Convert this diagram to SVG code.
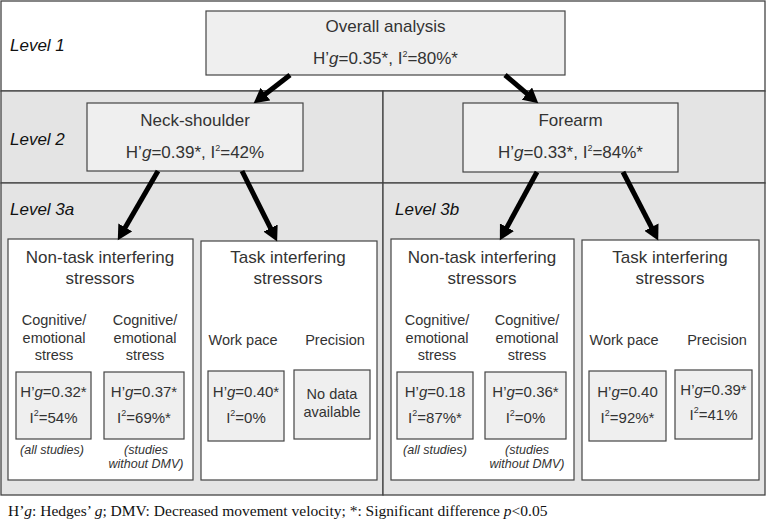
<svg xmlns="http://www.w3.org/2000/svg" width="767" height="525" viewBox="0 0 767 525">
<defs>
<style>
.band{fill:#e4e4e4;stroke:#444;stroke-width:1.3}
.band1{fill:#ffffff;stroke:#444;stroke-width:1.3}
.gbox{fill:#efefef;stroke:#444;stroke-width:1.2}
.wbox{fill:#ffffff;stroke:#444;stroke-width:1.2}
.dbox{fill:#efefef;stroke:#444;stroke-width:1.2}
text{font-family:"Liberation Sans",Arial,Helvetica,sans-serif;fill:#333}
.lvl{font-size:17px;font-style:italic;fill:#111}
.t17{font-size:17px;text-anchor:middle}
.t15{font-size:15px;text-anchor:middle}
.t14{font-size:14.5px;text-anchor:middle}
.note{font-size:12.5px;font-style:italic;text-anchor:middle}
.sup{font-size:9px}
.it{font-style:italic}
.foot{font-family:"Liberation Serif","Times New Roman",serif;font-size:15.5px;fill:#111}
.arr{stroke:#000;stroke-width:5;fill:none;marker-end:url(#ah)}
</style>
<marker id="ah" markerUnits="userSpaceOnUse" markerWidth="16" markerHeight="16" refX="8" refY="7.5" orient="auto" viewBox="0 0 15 15">
<path d="M0,0 L14,7.5 L0,15 z" fill="#000"/>
</marker>
</defs>

<g id="bands">
<rect class="band1" x="1" y="1" width="764" height="90"/>
<rect class="band" x="1" y="91" width="382" height="92"/>
<rect class="band" x="383" y="91" width="382" height="92"/>
<rect class="band" x="1" y="183" width="382" height="312"/>
<rect class="band" x="383" y="183" width="382" height="312"/>
<text class="lvl" x="10" y="51">Level 1</text>
<text class="lvl" x="10" y="145">Level 2</text>
<text class="lvl" x="10" y="215">Level 3a</text>
<text class="lvl" x="395" y="215">Level 3b</text>
</g>

<g id="overall">
<rect class="gbox" x="206" y="11" width="359" height="64"/>
<text class="t17" x="385.5" y="32">Overall analysis</text>
<text class="t17" x="385.5" y="64">H’<tspan class="it">g</tspan>=0.35*, I<tspan class="sup" dy="-7">2</tspan><tspan dy="7">=80%*</tspan></text>
</g>

<g id="neck-shoulder">
<rect class="gbox" x="87" y="103" width="216" height="68"/>
<text class="t17" x="195" y="126">Neck-shoulder</text>
<text class="t17" x="195" y="158">H’<tspan class="it">g</tspan>=0.39*, I<tspan class="sup" dy="-7">2</tspan><tspan dy="7">=42%</tspan></text>
</g>

<g id="forearm">
<rect class="gbox" x="463" y="103" width="215" height="69"/>
<text class="t17" x="570.5" y="126">Forearm</text>
<text class="t17" x="570.5" y="158">H’<tspan class="it">g</tspan>=0.33*, I<tspan class="sup" dy="-7">2</tspan><tspan dy="7">=84%*</tspan></text>
</g>

<g id="nontask-a">
<rect class="wbox" x="8" y="239" width="185" height="241"/>
<text class="t17" x="100" y="263">Non-task interfering</text>
<text class="t17" x="100" y="284">stressors</text>
<text class="t14" x="54" y="325">Cognitive/</text>
<text class="t14" x="54" y="343">emotional</text>
<text class="t14" x="54" y="360">stress</text>
<text class="t14" x="145" y="325">Cognitive/</text>
<text class="t14" x="145" y="343">emotional</text>
<text class="t14" x="145" y="360">stress</text>
<rect class="dbox" x="16" y="372" width="75" height="67"/>
<text class="t15" x="53.5" y="397">H’<tspan class="it">g</tspan>=0.32*</text>
<text class="t15" x="53.5" y="423">I<tspan class="sup" dy="-7">2</tspan><tspan dy="7">=54%</tspan></text>
<rect class="dbox" x="104" y="372" width="80" height="67"/>
<text class="t15" x="144" y="397">H’<tspan class="it">g</tspan>=0.37*</text>
<text class="t15" x="144" y="423">I<tspan class="sup" dy="-7">2</tspan><tspan dy="7">=69%*</tspan></text>
<text class="note" x="52" y="454">(all studies)</text>
<text class="note" x="146" y="454">(studies</text>
<text class="note" x="146" y="468">without DMV)</text>
</g>

<g id="task-a">
<rect class="wbox" x="201" y="241" width="176" height="239"/>
<text class="t17" x="288" y="263">Task interfering</text>
<text class="t17" x="288" y="284">stressors</text>
<text class="t14" x="243" y="345">Work pace</text>
<text class="t14" x="335" y="345">Precision</text>
<rect class="dbox" x="208" y="371" width="76" height="70"/>
<text class="t15" x="246" y="397">H’<tspan class="it">g</tspan>=0.40*</text>
<text class="t15" x="246" y="423">I<tspan class="sup" dy="-7">2</tspan><tspan dy="7">=0%</tspan></text>
<rect class="dbox" x="294" y="370" width="76" height="69"/>
<text class="t14" x="332" y="399">No data</text>
<text class="t14" x="332" y="417">available</text>
</g>

<g id="nontask-b">
<rect class="wbox" x="391" y="239" width="183" height="241"/>
<text class="t17" x="482" y="263">Non-task interfering</text>
<text class="t17" x="482" y="284">stressors</text>
<text class="t14" x="437" y="325">Cognitive/</text>
<text class="t14" x="437" y="343">emotional</text>
<text class="t14" x="437" y="360">stress</text>
<text class="t14" x="527" y="325">Cognitive/</text>
<text class="t14" x="527" y="343">emotional</text>
<text class="t14" x="527" y="360">stress</text>
<rect class="dbox" x="397" y="372" width="76" height="67"/>
<text class="t15" x="435" y="397">H’<tspan class="it">g</tspan>=0.18</text>
<text class="t15" x="435" y="423">I<tspan class="sup" dy="-7">2</tspan><tspan dy="7">=87%*</tspan></text>
<rect class="dbox" x="485" y="372" width="81" height="67"/>
<text class="t15" x="525.5" y="397">H’<tspan class="it">g</tspan>=0.36*</text>
<text class="t15" x="525.5" y="423">I<tspan class="sup" dy="-7">2</tspan><tspan dy="7">=0%</tspan></text>
<text class="note" x="435" y="454">(all studies)</text>
<text class="note" x="527" y="454">(studies</text>
<text class="note" x="527" y="468">without DMV)</text>
</g>

<g id="task-b">
<rect class="wbox" x="582" y="240" width="177" height="240"/>
<text class="t17" x="670" y="263">Task interfering</text>
<text class="t17" x="670" y="284">stressors</text>
<text class="t14" x="624" y="345">Work pace</text>
<text class="t14" x="717" y="345">Precision</text>
<rect class="dbox" x="589" y="371" width="77" height="70"/>
<text class="t15" x="627.5" y="397">H’<tspan class="it">g</tspan>=0.40</text>
<text class="t15" x="627.5" y="423">I<tspan class="sup" dy="-7">2</tspan><tspan dy="7">=92%*</tspan></text>
<rect class="dbox" x="675" y="370" width="77" height="69"/>
<text class="t15" x="713.5" y="395">H’<tspan class="it">g</tspan>=0.39*</text>
<text class="t15" x="713.5" y="420">I<tspan class="sup" dy="-7">2</tspan><tspan dy="7">=41%</tspan></text>
</g>

<g id="connectors">
<line class="arr" x1="290" y1="75" x2="258.7" y2="99.3"/>
<line class="arr" x1="505" y1="75" x2="533.4" y2="99.1"/>
<line class="arr" x1="158" y1="171" x2="121" y2="234.8"/>
<line class="arr" x1="242" y1="171" x2="274.3" y2="235.7"/>
<line class="arr" x1="537" y1="172" x2="502.9" y2="234.7"/>
<line class="arr" x1="623" y1="172" x2="655.3" y2="234.7"/>
</g>

<text class="foot" x="8" y="516">H’<tspan class="it">g</tspan>: Hedges’ <tspan class="it">g</tspan>; DMV: Decreased movement velocity; *: Significant difference <tspan class="it">p</tspan>&lt;0.05</text>
</svg>
